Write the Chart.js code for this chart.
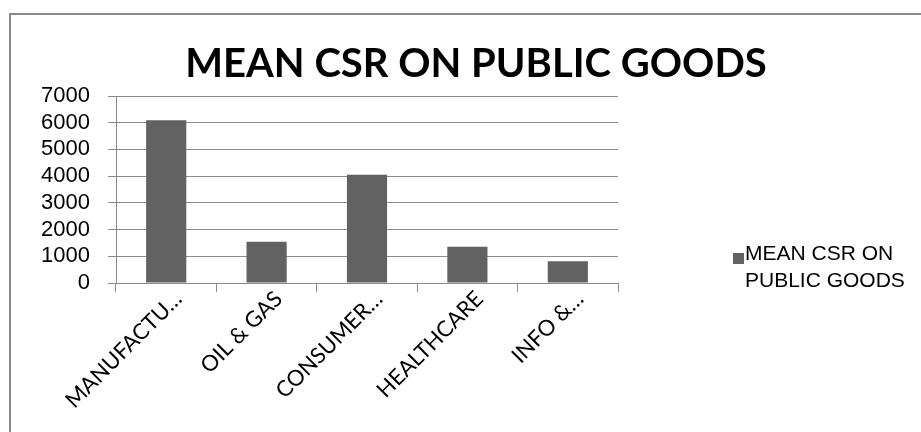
<!DOCTYPE html>
<html>
<head>
<meta charset="utf-8">
<script src="https://cdn.jsdelivr.net/npm/chart.js@4/dist/chart.umd.min.js"></script>
<style>
  html, body { margin: 0; padding: 0; background: #fff; }
  #wrap { width: 921px; height: 432px; position: relative; }
</style>
</head>
<body>
<div id="wrap"><canvas id="c" width="921" height="432"></canvas></div>
<script>
// Sector labels as shown on the category axis
const categories = ['MANUFACTU…', 'OIL & GAS', 'CONSUMER…', 'HEALTHCARE', 'INFO &…'];
// Mean CSR spend on public goods per sector
const meanCsr = [6090, 1540, 4050, 1360, 810];
// Value axis ticks
const yTicks = [0, 1000, 2000, 3000, 4000, 5000, 6000, 7000];
const seriesName = 'MEAN CSR ON PUBLIC GOODS';
const legendLines = ['MEAN CSR ON', 'PUBLIC GOODS'];

const BAR = '#626262';
const GRID = '#8c8c8c';

// Frame, title and wrapped legend drawn on the canvas
const decor = {
  id: 'decor',
  beforeDraw(chart) {
    const ctx = chart.ctx;
    ctx.save();
    ctx.fillStyle = '#fff';
    ctx.fillRect(0, 0, chart.width, chart.height);
    ctx.strokeStyle = GRID;
    ctx.lineWidth = 2;
    ctx.strokeRect(10, 14, 1000, 1000);
    ctx.restore();
  },
  afterDraw(chart) {
    const ctx = chart.ctx;
    ctx.save();
    ctx.fillStyle = '#000';
    ctx.font = 'bold 40px Lato';
    ctx.textAlign = 'center';
    ctx.textBaseline = 'alphabetic';
    ctx.fillText(seriesName, 476, 77);

    ctx.font = '21px "Liberation Sans"';
    ctx.textAlign = 'left';
    ctx.textBaseline = 'middle';
    ctx.fillText(legendLines[0], 745, 254);
    ctx.fillText(legendLines[1], 745, 281);
    ctx.fillStyle = chart.data.datasets[0].backgroundColor;
    ctx.fillRect(733, 253, 11, 11);
    ctx.restore();
  }
};

new Chart(document.getElementById('c'), {
  type: 'bar',
  data: {
    labels: categories,
    datasets: [{
      label: seriesName,
      data: meanCsr,
      backgroundColor: BAR,
      borderWidth: 0,
      barPercentage: 1,
      categoryPercentage: 0.4
    }]
  },
  options: {
    responsive: false,
    animation: false,
    events: [],
    layout: { padding: { left: 0, right: 303, top: 96, bottom: 0 } },
    plugins: {
      legend: { display: false },
      title: { display: false },
      tooltip: { enabled: false }
    },
    scales: {
      x: {
        grid: {
          offset: true,
          drawOnChartArea: false,
          drawTicks: true,
          tickLength: 9,
          color: GRID,
          lineWidth: 1
        },
        border: { display: true, color: GRID, width: 1 },
        ticks: {
          minRotation: 45,
          maxRotation: 45,
          autoSkip: false,
          padding: -6,
          labelOffset: 12,
          color: '#000',
          font: { family: 'Lato', size: 22 }
        },
        afterFit(scale) { scale.height = 432 - 283; }
      },
      y: {
        min: 0,
        max: 7000,
        afterBuildTicks(scale) { scale.ticks = yTicks.map(v => ({ value: v })); },
        grid: {
          color: GRID,
          lineWidth: 1,
          drawTicks: true,
          tickLength: 8
        },
        border: { display: true, color: GRID, width: 1 },
        ticks: {
          autoSkip: false,
          padding: 18,
          color: '#000',
          font: { family: 'Liberation Sans', size: 22 },
          callback: v => String(v)
        },
        afterFit(scale) { scale.width = 116; }
      }
    }
  },
  plugins: [decor]
});
</script>
</body>
</html>
